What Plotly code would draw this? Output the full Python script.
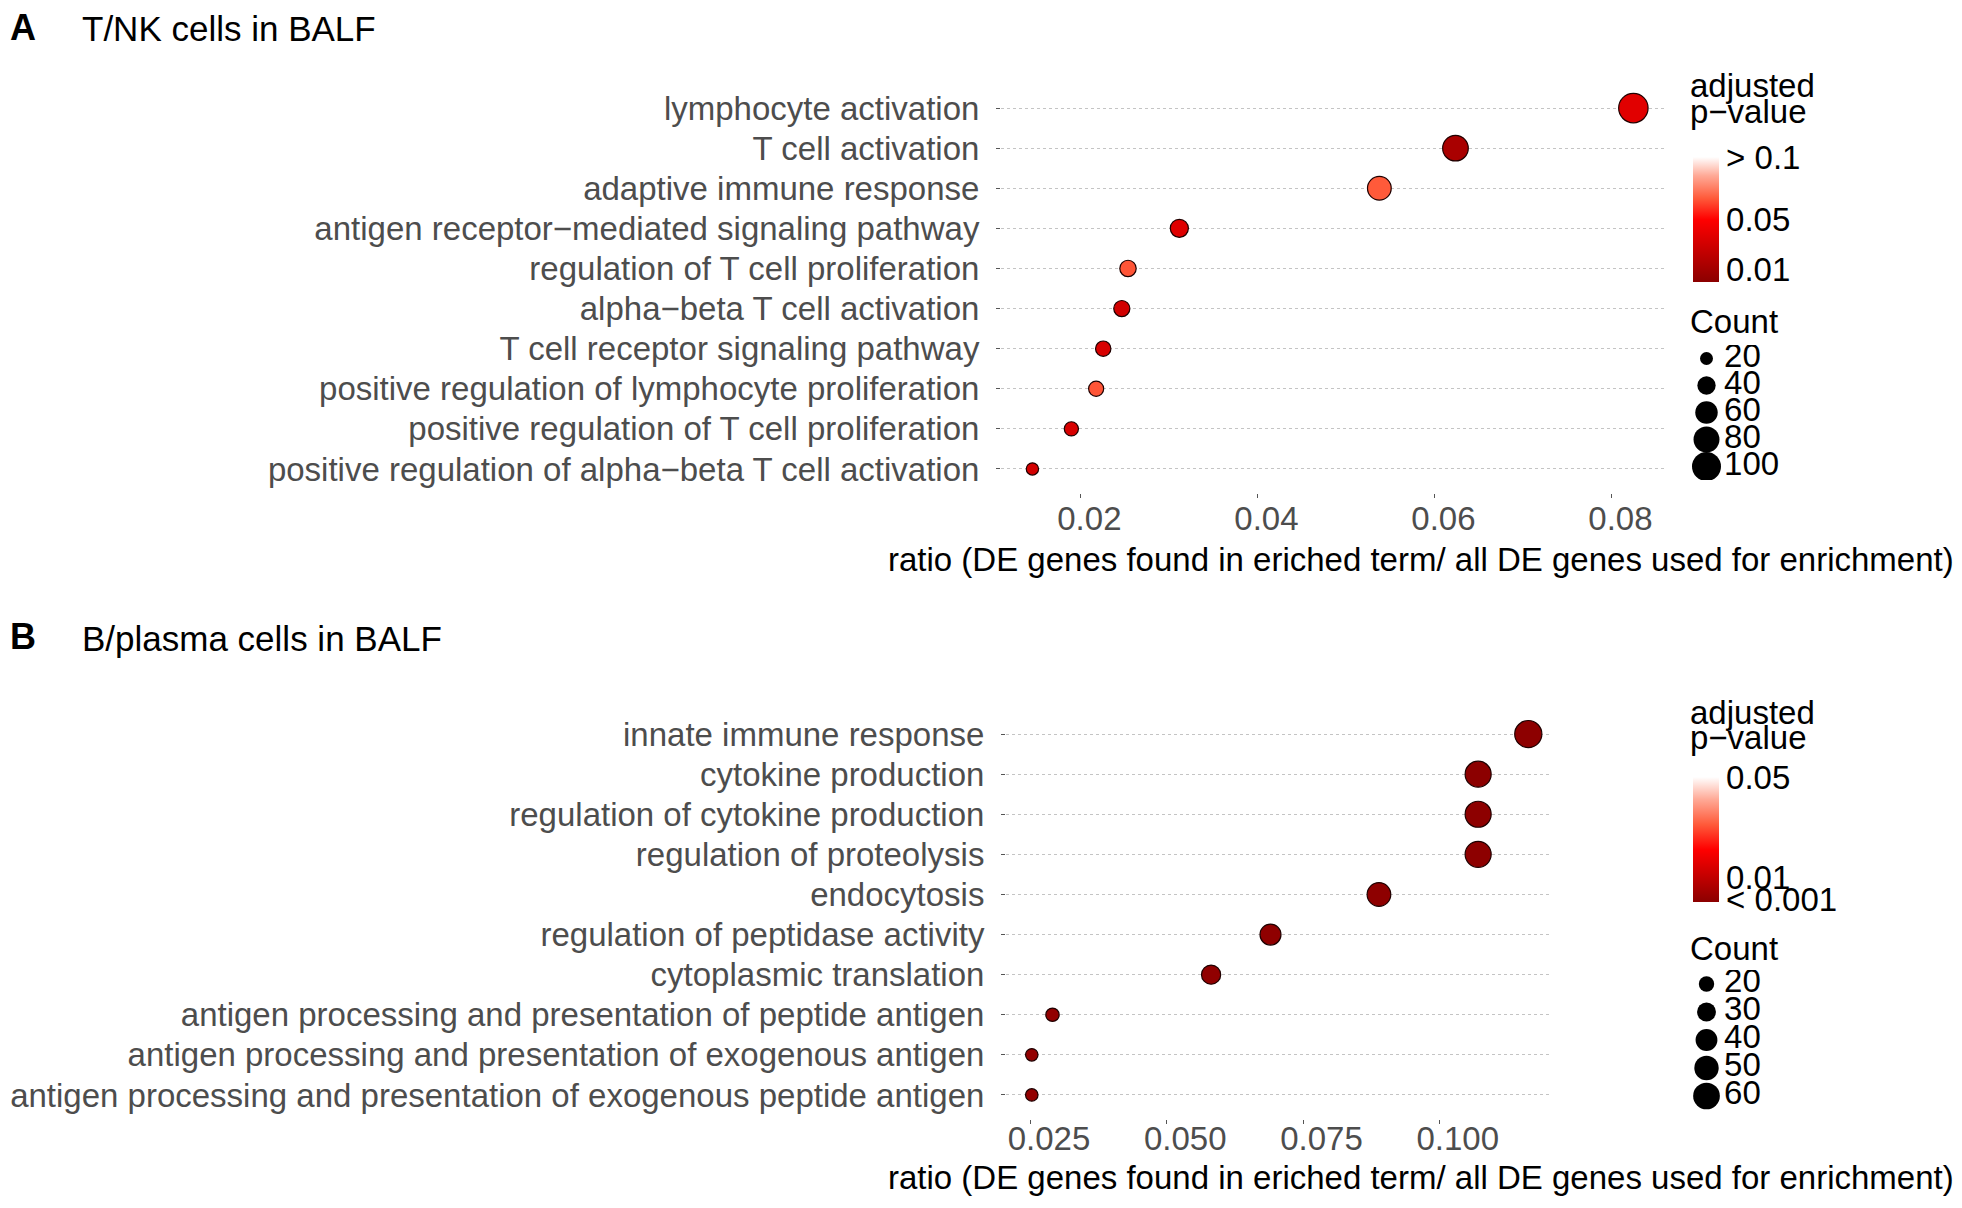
import plotly.graph_objects as go

W, H = 1962, 1208
FONT = "Liberation Sans, Arial, sans-serif"
FS = 33
GREY = "#4d4d4d"
NBSP = "\u00a0"

# panel A: T/NK cells in BALF (top to bottom)
tnk_terms = [
    "lymphocyte activation",
    "T cell activation",
    "adaptive immune response",
    "antigen receptor\u2212mediated signaling pathway",
    "regulation of T cell proliferation",
    "alpha\u2212beta T cell activation",
    "T cell receptor signaling pathway",
    "positive regulation of lymphocyte proliferation",
    "positive regulation of T cell proliferation",
    "positive regulation of alpha\u2212beta T cell activation",
]
tnk_ratio = [0.0825, 0.0624, 0.0538, 0.0312, 0.0254, 0.0247, 0.0226, 0.0218, 0.0190, 0.0146]
tnk_count = [103, 78, 67, 39, 32, 31, 28, 27, 24, 18]
tnk_padj = [0.037, 0.013, 0.067, 0.036, 0.066, 0.030, 0.033, 0.066, 0.033, 0.031]
tnk_size_breaks = [20, 40, 60, 80, 100]
tnk_p_ticks = [0.01, 0.05, 0.1]
tnk_p_labels = ["0.01", "0.05", "> 0.1"]
tnk_x_ticks = [0.02, 0.04, 0.06, 0.08]
tnk_x_labels = ["0.02", "0.04", "0.06", "0.08"]

# panel B: B/plasma cells in BALF (top to bottom)
b_terms = [
    "innate immune response",
    "cytokine production",
    "regulation of cytokine production",
    "regulation of proteolysis",
    "endocytosis",
    "regulation of peptidase activity",
    "cytoplasmic translation",
    "antigen processing and presentation of peptide antigen",
    "antigen processing and presentation of exogenous antigen",
    "antigen processing and presentation of exogenous peptide antigen",
]
b_ratio = [0.1163, 0.1071, 0.1071, 0.1071, 0.0889, 0.0690, 0.0581, 0.0290, 0.0252, 0.0252]
b_count = [62, 57, 57, 57, 47, 37, 31, 15, 13, 13]
b_padj = [0.0004, 0.0002, 0.0003, 0.0004, 0.0006, 0.0008, 0.0009, 0.0012, 0.0015, 0.0015]
b_size_breaks = [20, 30, 40, 50, 60]
b_p_ticks = [0.001, 0.01, 0.05]
b_p_labels = ["< 0.001", "0.01", "0.05"]
b_x_ticks = [0.025, 0.050, 0.075, 0.100]
b_x_labels = ["0.025", "0.050", "0.075", "0.100"]

X_TITLE = "ratio (DE genes found in eriched term/ all DE genes used for enrichment)"


def px_x(v):
    return v / W


def px_y(v):
    return 1 - v / H


def add_panel(fig, n, terms, ratio, count, padj, sizeref, cmax, scale, ticks, labels, cb_top):
    fig.add_trace(
        go.Scatter(
            x=ratio,
            y=terms,
            mode="markers",
            marker=dict(
                size=count,
                sizemode="area",
                sizeref=sizeref,
                opacity=1,
                color=padj,
                cmin=0,
                cmax=cmax,
                colorscale=scale,
                line=dict(color="#1e0000", width=1.2),
                colorbar=dict(
                    x=px_x(1693), xanchor="left",
                    y=px_y(cb_top), yanchor="top",
                    len=125, lenmode="pixels",
                    thickness=26, thicknessmode="pixels",
                    xpad=0, ypad=0, outlinewidth=0,
                    tickvals=ticks, ticktext=labels, ticks="",
                    tickfont=dict(family=FONT, size=FS, color="black"),
                ),
            ),
            xaxis=f"x{n}" if n > 1 else "x",
            yaxis=f"y{n}" if n > 1 else "y",
            showlegend=False,
            hovertemplate="%{y}<br>ratio=%{x}<extra></extra>",
        )
    )


def add_size_legend(fig, n, breaks, sizeref):
    ax = dict(xaxis=f"x{n}", yaxis=f"y{n}")
    idx = list(range(len(breaks)))
    fig.add_trace(
        go.Scatter(
            x=[0.15] * len(breaks), y=idx, mode="markers",
            marker=dict(size=breaks, sizemode="area", sizeref=sizeref, opacity=1,
                        color="black", line=dict(width=0)),
            showlegend=False, hoverinfo="skip", **ax,
        )
    )
    fig.add_trace(
        go.Scatter(
            x=[0.31] * len(breaks), y=idx, mode="text", text=[str(b) for b in breaks],
            textposition="middle right",
            textfont=dict(family=FONT, size=FS, color="black"),
            showlegend=False, hoverinfo="skip", **ax,
        )
    )


def main():
    fig = go.Figure()
    scale_a = [[0, "#8b0000"], [0.5, "#ff0000"], [0.67, "#ff5a3a"],
               [0.85, "#ffa996"], [1, "#ffffff"]]
    scale_b = [[0, "#8b0000"], [0.42, "#ff0000"], [0.62, "#ff5a3a"],
               [0.82, "#ffa996"], [1, "#ffffff"]]
    # marker diameter ~ k * sqrt(count)
    ref_a = 2 / 2.9 ** 2
    ref_b = 2 / 3.45 ** 2

    add_panel(fig, 1, tnk_terms, tnk_ratio, tnk_count, tnk_padj, ref_a, 0.1, scale_a, tnk_p_ticks, tnk_p_labels, 157)
    add_panel(fig, 2, b_terms, b_ratio, b_count, b_padj, ref_b, 0.05, scale_b, b_p_ticks, b_p_labels, 777)
    add_size_legend(fig, 3, tnk_size_breaks, ref_a)
    add_size_legend(fig, 4, b_size_breaks, ref_b)

    ytick = dict(
        type="category", categoryorder="array", range=[-0.6, 9.6],
        showgrid=True, gridcolor="#c4c4c4", griddash="dot", gridwidth=1,
        ticks="outside", ticklen=4, tickcolor="#555555",
        tickfont=dict(family=FONT, size=FS, color=GREY),
        showline=False, zeroline=False, ticklabelstandoff=10,
    )
    xtick = dict(
        showgrid=False, zeroline=False, showline=False,
        ticks="outside", ticklen=4, tickcolor="#555555",
        tickfont=dict(family=FONT, size=FS, color=GREY),
    )
    hidden = dict(visible=False, showgrid=False, zeroline=False)

    fig.update_layout(
        width=W, height=H,
        margin=dict(l=0, r=0, t=0, b=0, autoexpand=False),
        paper_bgcolor="white", plot_bgcolor="white",
        font=dict(family=FONT, size=FS, color="black"),
        # tick labels in the source sit a little right of their tick marks
        xaxis=dict(xtick, domain=[px_x(1001), px_x(1667)], range=[0.01105, 0.0863],
                   tickvals=tnk_x_ticks, ticktext=[NBSP * 2 + t for t in tnk_x_labels],
                   ticklabelstandoff=-8, anchor="y"),
        yaxis=dict(ytick, domain=[px_y(493), px_y(84)], categoryarray=tnk_terms[::-1], anchor="x"),
        xaxis2=dict(xtick, domain=[px_x(1006), px_x(1549)], range=[0.02047, 0.1201],
                    tickvals=b_x_ticks, ticktext=[NBSP * 4 + t for t in b_x_labels],
                    ticklabelstandoff=-14, anchor="y2"),
        yaxis2=dict(ytick, domain=[px_y(1119), px_y(710)], categoryarray=b_terms[::-1], anchor="x2"),
        xaxis3=dict(hidden, domain=[px_x(1690), px_x(1800)], range=[0, 1], anchor="y3"),
        yaxis3=dict(hidden, domain=[px_y(480), px_y(345)], range=[4.5, -0.5], anchor="x3"),
        xaxis4=dict(hidden, domain=[px_x(1690), px_x(1800)], range=[0, 1], anchor="y4"),
        yaxis4=dict(hidden, domain=[px_y(1110), px_y(970)], range=[4.5, -0.5], anchor="x4"),
    )

    def note(text, x, y, xanchor="left", bold=False, size=FS):
        fig.add_annotation(
            text=f"<b>{text}</b>" if bold else text,
            x=px_x(x), y=px_y(y), xref="paper", yref="paper",
            xanchor=xanchor, yanchor="middle", showarrow=False,
            font=dict(family=FONT, size=size, color="black"),
        )

    note("A", 8, 27, bold=True, size=36)
    note("T/NK cells in BALF", 80, 28, size=35)
    note("B", 8, 636, bold=True, size=36)
    note("B/plasma cells in BALF", 80, 638, size=35)
    note(X_TITLE, 1956, 560, xanchor="right")
    note(X_TITLE, 1956, 1177, xanchor="right")
    for top in (0, 626):
        note("adjusted", 1688, 86 + top)
        note("p\u2212value", 1688, 111 + top)
    note("Count", 1688, 322)
    note("Count", 1688, 948)

    # drop the default 8px page margin so paper pixels match the window
    fig.write_html(
        "out.html",
        config={"displayModeBar": False},
        post_script="document.body.style.margin='0';",
    )


if __name__ == "__main__":
    main()
